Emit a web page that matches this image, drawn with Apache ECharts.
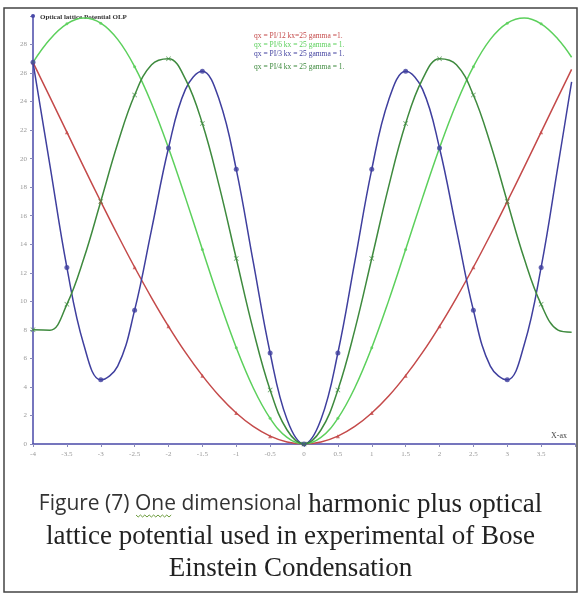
<!DOCTYPE html>
<html>
<head>
<meta charset="utf-8">
<script src="https://cdn.jsdelivr.net/npm/echarts@6/dist/echarts.min.js"></script>
<style>
html,body{margin:0;padding:0;background:#fff;}
#c{width:581px;height:596px;}
</style>
</head>
<body>
<div id="c"></div>
<script>
// x positions (Xax)
const xs = [-4, -3.75, -3.5, -3.25, -3, -2.75, -2.5, -2.25, -2, -1.75, -1.5, -1.25, -1, -0.75, -0.5, -0.25, 0,
            0.25, 0.5, 0.75, 1, 1.25, 1.5, 1.75, 2, 2.25, 2.5, 2.75, 3, 3.25, 3.5, 3.75, 3.95];
// qx = PI/12
const redVals = [26.75, 24.31, 21.86, 19.41, 17.0, 14.65, 12.39, 10.25, 8.25, 6.42, 4.79, 3.36, 2.17, 1.23, 0.55, 0.14, 0,
                 0.14, 0.55, 1.23, 2.17, 3.36, 4.79, 6.42, 8.25, 10.25, 12.39, 14.65, 17.0, 19.41, 21.86, 24.31, 26.26];
// qx = PI/6
const greenVals = [26.75, 28.37, 29.45, 29.86, 29.5, 28.36, 26.45, 23.87, 20.75, 17.27, 13.63, 10.05, 6.75, 3.94, 1.80, 0.46, 0,
                   0.46, 1.80, 3.94, 6.75, 10.05, 13.63, 17.27, 20.75, 23.87, 26.45, 28.36, 29.5, 29.86, 29.45, 28.37, 27.11];
// qx = PI/3
const blueVals = [26.75, 19.53, 12.38, 6.96, 4.5, 5.46, 9.38, 15.03, 20.75, 24.86, 26.13, 24.11, 19.25, 12.78, 6.38, 1.71, 0,
                  1.71, 6.38, 12.78, 19.25, 24.11, 26.13, 24.86, 20.75, 15.03, 9.38, 5.46, 4.5, 6.96, 12.38, 19.53, 25.38];
// qx = PI/4
const dkGreenVals = [8.0, 7.98, 9.79, 13.0, 17.0, 21.06, 24.46, 26.58, 27.0, 25.58, 22.46, 18.06, 13.0, 8.0, 3.79, 0.98, 0,
                     0.98, 3.79, 8.0, 13.0, 18.06, 22.46, 25.58, 27.0, 26.58, 24.46, 21.06, 17.0, 13.0, 9.79, 7.98, 7.84];

const seriesNames = ['qx = PI/12 kx=25 gamma =1.', 'qx = PI/6 kx = 25 gamma = 1.', 'qx = PI/3 kx = 25 gamma = 1.', 'qx = PI/4 kx = 25 gamma = 1.'];
const colors = ['#c44a4a', '#5cd05c', '#3f3f9e', '#3e8a3e'];
const allVals = [redVals, greenVals, blueVals, dkGreenVals];
const markerSymbols = ['triangle', 'circle', 'circle', 'path://M0,1L1,0L5,4L9,0L10,1L6,5L10,9L9,10L5,6L1,10L0,9L4,5Z'];
const markerSizes = [4, 3, 5, 5];

function pairs(vals){ return xs.map((x,i)=>[x, vals[i]]); }
function markerPairs(vals){ return xs.map((x,i)=>[x, vals[i]]).filter(p => Math.abs(p[0]*2 - Math.round(p[0]*2)) < 1e-9); }

const series = [];
allVals.forEach((vals, k) => {
  series.push({
    name: seriesNames[k], type: 'line', data: pairs(vals), smooth: 0.4, showSymbol: false,
    lineStyle: {color: colors[k], width: 1.5}, itemStyle: {color: colors[k]}, z: 2, animation: false
  });
});
allVals.forEach((vals, k) => {
  series.push({
    name: 'm' + k, type: 'scatter', data: markerPairs(vals), symbol: markerSymbols[k], symbolSize: markerSizes[k],
    itemStyle: {color: colors[k]}, z: 3, animation: false
  });
});

// wavy underline under "One"
const wave = [];
for (let i = 0; i <= 16; i++) wave.push([i * 2.2, (i % 2) ? 2 : 0]);

const chart = echarts.init(document.getElementById('c'), null, {renderer: 'canvas'});
chart.setOption({
  animation: false,
  backgroundColor: '#fff',
  grid: {left: 33, right: 6, top: 16, bottom: 152},
  legend: [
    {data: seriesNames.slice(0,3).map((n,i)=>({name:n, textStyle:{color: colors[i]}})),
     orient: 'vertical', left: 244, top: 27, itemGap: 1, itemWidth: 0, itemHeight: 0, icon: 'none',
     selectedMode: false, textStyle: {fontFamily: 'Liberation Serif', fontSize: 7.5}},
    {data: [{name: seriesNames[3], textStyle:{color: colors[3]}}],
     orient: 'vertical', left: 244, top: 58, itemWidth: 0, itemHeight: 0, icon: 'none',
     selectedMode: false, textStyle: {fontFamily: 'Liberation Serif', fontSize: 7.5}}
  ],
  xAxis: {
    type: 'value', min: -4, max: 4, interval: 0.5,
    name: 'X-ax', nameLocation: 'end', nameGap: -8,
    nameTextStyle: {fontFamily: 'Liberation Serif', fontSize: 8, color: '#444', align: 'right', verticalAlign: 'bottom', padding: [0,0,4,0]},
    axisLine: {lineStyle: {color: '#4848a8', width: 1.5}},
    axisTick: {length: 3, lineStyle: {color: '#8888bb'}},
    axisLabel: {fontFamily: 'Liberation Serif', fontSize: 7, color: '#999', margin: 7,
      formatter: v => (v >= 4 ? '' : String(v))},
    splitLine: {show: false}
  },
  yAxis: {
    type: 'value', min: 0, max: 30, interval: 2,
    axisLine: {onZero: false, lineStyle: {color: '#4848a8', width: 1.5}, symbol: ['none', 'circle'], symbolSize: [4, 4]},
    axisTick: {length: 3, lineStyle: {color: '#8888bb'}},
    axisLabel: {fontFamily: 'Liberation Serif', fontSize: 7, color: '#999', margin: 6,
      formatter: v => (v >= 30 ? '' : String(v))},
    splitLine: {show: false}
  },
  graphic: [
    {type: 'rect', shape: {x: 4, y: 8, width: 573, height: 584}, style: {fill: 'none', stroke: '#444', lineWidth: 1.5}, z: 100},
    {type: 'text', left: 40, top: 14, style: {text: 'Optical lattice Potential OLP', font: 'bold 7px "Liberation Serif"', fill: '#333'}},
    {type: 'text', left: 'center', top: 491, style: {
      text: '{s|Figure (7) One dimensional}{t| harmonic plus optical}',
      rich: {s: {font: '21px "Open Sans"', fill: '#333'}, t: {font: '27px "Liberation Serif"', fill: '#222'}}}},
    {type: 'text', left: 'center', top: 523, style: {text: 'lattice potential used in experimental of Bose', font: '27px "Liberation Serif"', fill: '#222'}},
    {type: 'text', left: 'center', top: 555, style: {text: 'Einstein Condensation', font: '27px "Liberation Serif"', fill: '#222'}},
    {type: 'polyline', x: 136, y: 515, shape: {points: wave}, style: {stroke: '#6a9a3a', lineWidth: 1, fill: 'none'}}
  ],
  series: series
});
</script>
</body>
</html>
